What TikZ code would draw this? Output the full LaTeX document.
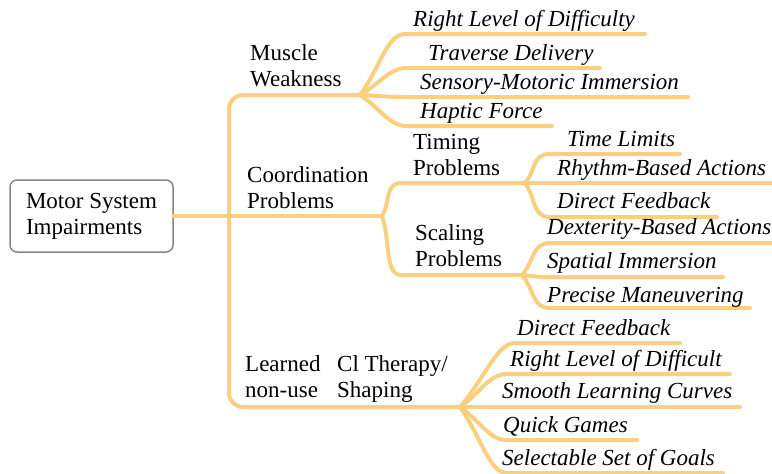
\documentclass[tikz,border=0pt]{standalone}
\usepackage{fontspec}
\setmainfont{Liberation Serif}
\usetikzlibrary{calc}
\definecolor{branchc}{RGB}{250,208,128}
\definecolor{boxc}{RGB}{135,135,135}
\tikzset{
  ln/.style={draw=branchc, line width=4pt, line cap=round, line join=round},
  lbl/.style={font=\fontsize{23}{26}\selectfont, inner sep=0pt, anchor=base west, align=left},
  leaf/.style={font=\fontsize{23}{26}\selectfont\itshape, inner sep=0pt, anchor=base west},
  rootbox/.style={draw=boxc, line width=1.5pt, rounded corners=7pt, fill=white,
    minimum width=163pt, minimum height=72pt, align=left, inner sep=0pt,
    font=\fontsize{23}{26}\selectfont}
}
\newcommand\fanline[3]{\draw[ln] (#1) .. controls ($(#1)!0.45!(#2)$) and +(-18,0) .. (#2) -- (#3);}
\begin{document}
\begin{tikzpicture}[x=1pt,y=-1pt]
\useasboundingbox (0,0) rectangle (772,474);
% branch points
\coordinate (b0) at (382,216);
\coordinate (b1) at (360,95);
\coordinate (b2) at (525,183);
\coordinate (b3) at (522,275);
\coordinate (b4) at (460,407);
\coordinate (mwc) at (229,95);
\coordinate (lnc) at (229,407);
% underline coordinates
\coordinate (rlA) at (405,34);  \coordinate (rlB) at (645,34);
\coordinate (tdA) at (407,68);  \coordinate (tdB) at (600,68);
\coordinate (smA) at (405,97);  \coordinate (smB) at (688,97);
\coordinate (hfA) at (407,126); \coordinate (hfB) at (552,126);
\coordinate (tiA) at (402,183);
\coordinate (scA) at (402,275);
\coordinate (tlA) at (550,154); \coordinate (tlB) at (680,154);
\coordinate (rbA) at (550,183); \coordinate (rbB) at (775,183);
\coordinate (dfA) at (550,217); \coordinate (dfB) at (717,217);
\coordinate (dxA) at (550,243); \coordinate (dxB) at (775,243);
\coordinate (spA) at (550,277); \coordinate (spB) at (723,277);
\coordinate (prA) at (550,308); \coordinate (prB) at (750,308);
\coordinate (cdA) at (515,343); \coordinate (cdB) at (680,343);
\coordinate (crA) at (507,374); \coordinate (crB) at (730,374);
\coordinate (csA) at (505,407); \coordinate (csB) at (740,407);
\coordinate (cqA) at (507,440); \coordinate (cqB) at (637,440);
\coordinate (ceA) at (507,473); \coordinate (ceB) at (723,473);

% root
\node[rootbox] (root) at (91.5,216) {Motor System\\Impairments};

% trunk
\draw[ln] (root.east) -- (b0);
\draw[ln, rounded corners=14pt] (b1) -- (mwc) -- (lnc) -- (b4);
% coordination split
\fanline{b0}{tiA}{b2}
\fanline{b0}{scA}{b3}
% muscle weakness leaves
\fanline{b1}{rlA}{rlB}
\fanline{b1}{tdA}{tdB}
\fanline{b1}{smA}{smB}
\fanline{b1}{hfA}{hfB}
% timing leaves
\fanline{b2}{tlA}{tlB}
\fanline{b2}{rbA}{rbB}
\fanline{b2}{dfA}{dfB}
% scaling leaves
\fanline{b3}{dxA}{dxB}
\fanline{b3}{spA}{spB}
\fanline{b3}{prA}{prB}
% CI leaves
\fanline{b4}{cdA}{cdB}
\fanline{b4}{crA}{crB}
\fanline{b4}{csA}{csB}
\fanline{b4}{cqA}{cqB}
\fanline{b4}{ceA}{ceB}

% category labels (anchor = baseline of last line)
\node[lbl] (mw) at (250,86) {Muscle\\Weakness};
\node[lbl] (cp) at (247,208) {Coordination\\Problems};
\node[lbl] (tp) at (413,175) {Timing\\Problems};
\node[lbl] (sp) at (415,266) {Scaling\\Problems};
\node[lbl] (ln) at (245,397) {Learned\\non-use};
\node[lbl] (ci) at (337,397) {Cl Therapy/\\Shaping};

% leaves
\node[leaf] (rl) at (413,26) {Right Level of Difficulty};
\node[leaf] (td) at (428,60) {Traverse Delivery};
\node[leaf] (sm) at (420,89) {Sensory-Motoric Immersion};
\node[leaf] (hf) at (420,118) {Haptic Force};
\node[leaf] (tl) at (567,146) {Time Limits};
\node[leaf] (rb) at (557,175) {Rhythm-Based Actions};
\node[leaf] (df) at (557,208) {Direct Feedback};
\node[leaf] (dx) at (547,234) {Dexterity-Based Actions};
\node[leaf] (si) at (547,268) {Spatial Immersion};
\node[leaf] (pm) at (547,302) {Precise Maneuvering};
\node[leaf] (cd) at (517,335) {Direct Feedback};
\node[leaf] (cr) at (510,366) {Right Level of Difficult};
\node[leaf] (cs) at (502,398) {Smooth Learning Curves};
\node[leaf] (cq) at (503,432) {Quick Games};
\node[leaf] (ce) at (502,465) {Selectable Set of Goals};
\end{tikzpicture}
\end{document}
